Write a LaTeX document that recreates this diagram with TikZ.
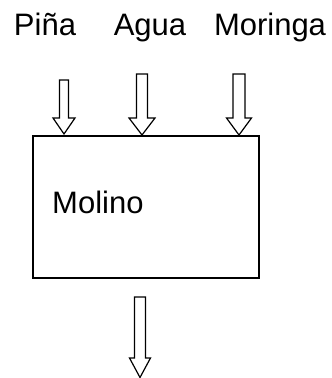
\documentclass[tikz,border=0pt]{standalone}
\usepackage{fontspec}
\setmainfont{Liberation Sans}
\tikzset{
  lbl/.style={inner sep=0pt, anchor=base, font=\fontsize{31}{36}\selectfont},
  boxline/.style={draw=black, line width=1.5pt, fill=white},
  arrline/.style={draw=black, line width=1.2pt, fill=white, line join=miter}
}
% block arrow: center x, top y, head start y, tip y, shaft half width, head half width
\newcommand\blockarrowdraw[6]{%
  \draw[arrline] (#1-#5,#2) -- (#1+#5,#2) -- (#1+#5,#3) -- (#1+#6,#3) -- (#1,#4)
    -- (#1-#6,#3) -- (#1-#5,#3) -- cycle;}
\begin{document}
\begin{tikzpicture}[x=1pt,y=-1pt]
\useasboundingbox (0,0) rectangle (332,378);
\node[lbl] (pina) at (45,35) {Piña};
\node[lbl] (agua) at (150,35) {Agua};
\node[lbl] (moringa) at (270,35) {Moringa};
\node[boxline, minimum width=226pt, minimum height=142pt, anchor=north west, inner sep=0pt] (molino) at (32,135) {};
\node[lbl, anchor=base west] (molinotxt) at (52,213) {Molino};
\blockarrowdraw{64}{80}{118}{134}{4.5}{11}
\blockarrowdraw{142}{74}{118}{135}{5.5}{13}
\blockarrowdraw{239}{74}{118}{135}{6}{12.5}
\blockarrowdraw{140}{297}{358}{377.5}{5.5}{10.5}
\end{tikzpicture}
\end{document}
